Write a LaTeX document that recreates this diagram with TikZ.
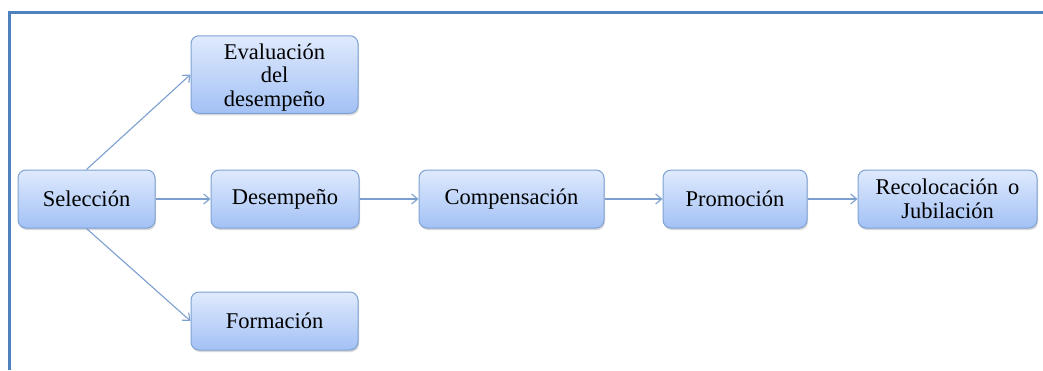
\documentclass[tikz,border=0pt]{standalone}
\usepackage{fontspec}
\setmainfont{Liberation Serif}
\usetikzlibrary{arrows.meta,shadows}
\definecolor{boxtop}{HTML}{DFEAFD}
\definecolor{boxbot}{HTML}{A3C1F5}
\definecolor{boxline}{HTML}{7FA2D4}
\definecolor{linkcol}{HTML}{7C9FCF}
\definecolor{framecol}{HTML}{4F81BD}
\tikzset{
  stage/.style={draw=boxline, line width=1pt, rounded corners=8pt,
    top color=boxtop, bottom color=boxbot, align=center,
    font=\fontsize{22.5}{24}\selectfont, inner sep=0pt,
    drop shadow={shadow xshift=1pt, shadow yshift=-2pt, opacity=0.25, fill=black!60}},
  link/.style={draw=linkcol, line width=1.1pt,
    -{Straight Barb[length=6pt, width=10pt, line width=1.1pt]}}
}
\begin{document}
\begin{tikzpicture}[x=1pt, y=-1pt]
\useasboundingbox (0,0) rectangle (1043,370);
\fill[white] (0,0) rectangle (1043,370);
% outer frame: top and left edges only
\draw[framecol, line width=3pt] (9.5,370) -- (9.5,12.5) -- (1043,12.5);

% stages (the three-line label sits a little low in its box)
\node[stage, minimum width=167pt, minimum height=75pt] (eval) at (274.5,74.5)
  {\raisebox{0pt}[\dimexpr\height+7pt\relax]{\fontsize{22.5}{23.5}\selectfont\begin{tabular}{@{}c@{}}Evaluación\\del\\desempeño\end{tabular}}};
\node[stage, minimum width=137pt, minimum height=58pt] (sel) at (86.5,199) {Selección};
\node[stage, minimum width=148pt, minimum height=58pt] (des) at (285,199) {Desempeño};
\node[stage, minimum width=185pt, minimum height=58pt] (comp) at (511.5,199) {Compensación};
\node[stage, minimum width=144pt, minimum height=58pt] (prom) at (735,199) {Promoción};
\node[stage, minimum width=179pt, minimum height=58pt] (rec) at (947.5,199) {Recolocación\hspace{0.45em}o\\Jubilación};
\node[stage, minimum width=167pt, minimum height=58pt] (form) at (274.5,321) {Formación};

% connectors
\draw[link] (sel.north) -- (eval.west);
\draw[link] (sel.south) -- (form.west);
\draw[link] (sel) -- (des);
\draw[link] (des) -- (comp);
\draw[link] (comp) -- (prom);
\draw[link] (prom) -- (rec);
\end{tikzpicture}
\end{document}
